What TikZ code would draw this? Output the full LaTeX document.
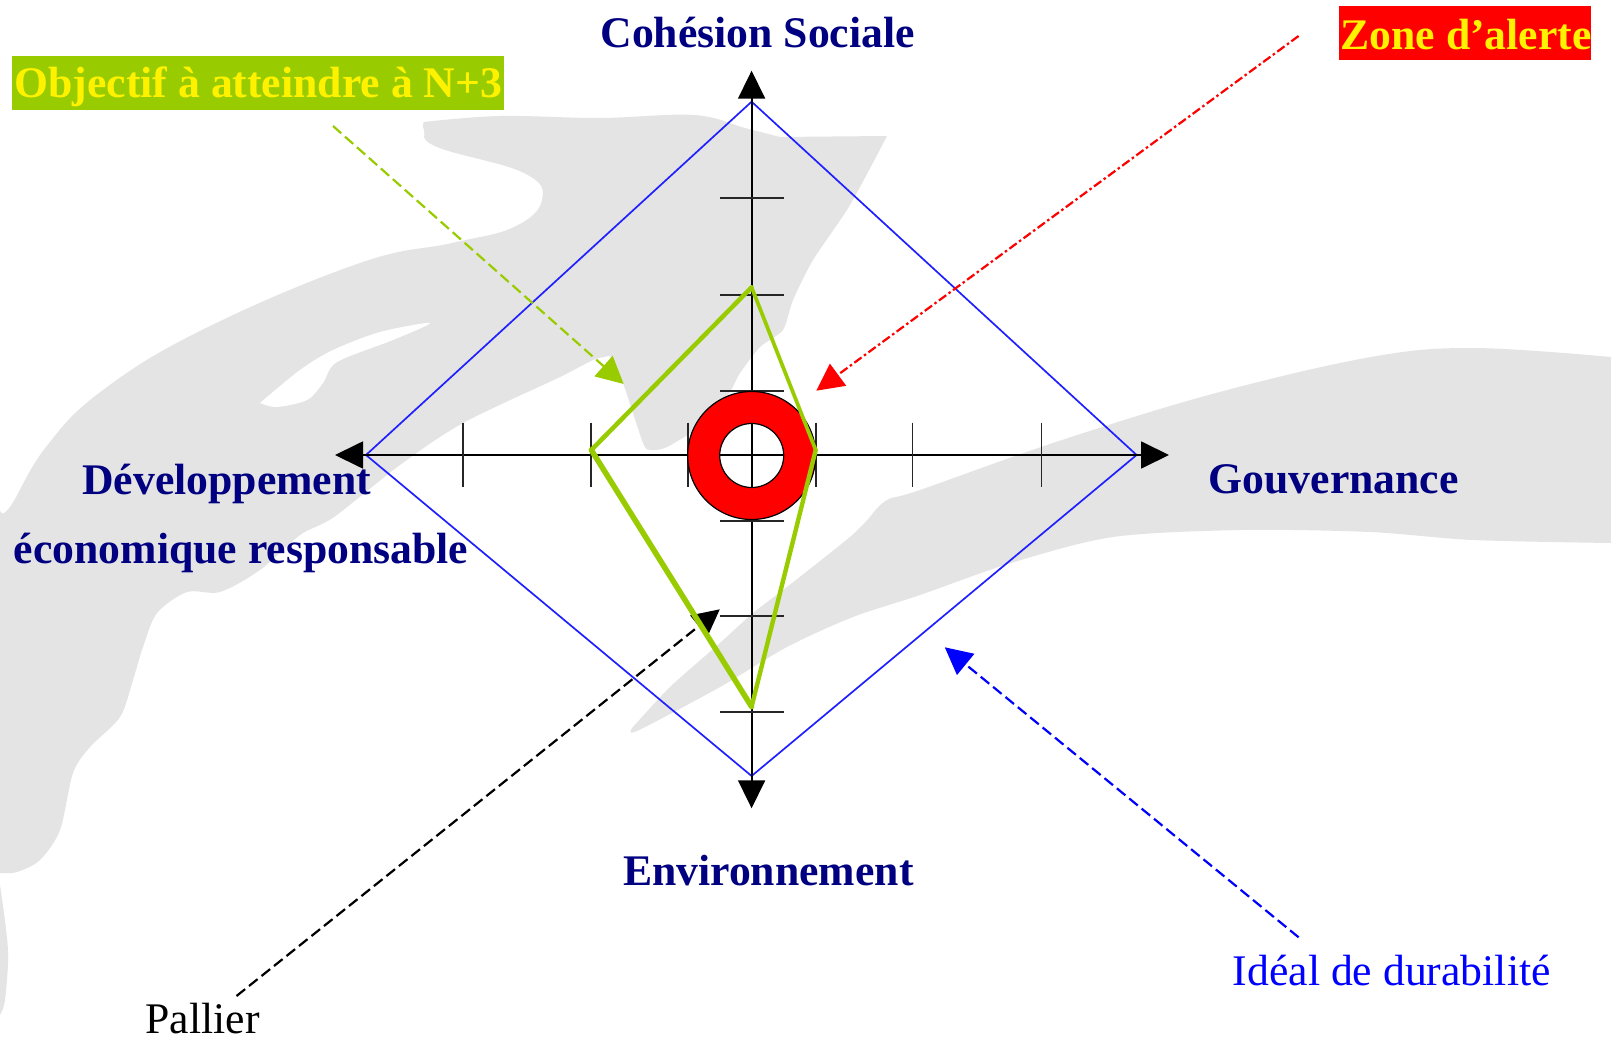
\documentclass[tikz,border=0pt]{standalone}
\usepackage{fontspec}
\setmainfont{Liberation Serif}
\usetikzlibrary{arrows.meta}
\definecolor{wmgray}{HTML}{E4E4E4}
\definecolor{navytxt}{HTML}{000080}
\definecolor{goal}{HTML}{99CC00}
\definecolor{dblue}{HTML}{2020FF}
\tikzset{
  x=1pt,y=-1pt,
  lab/.style={inner sep=0pt,outer sep=0pt,anchor=base west,font=\fontsize{43.7}{50}\selectfont},
  axislab/.style={lab,font=\fontsize{43.7}{50}\selectfont\bfseries,text=navytxt},
  taglab/.style={lab,font=\fontsize{43.7}{50}\selectfont\bfseries,text=yellow},
  tagbox/.style={inner sep=0pt,outer sep=0pt,anchor=north west},
  axisline/.style={black,line width=1.8pt,{Triangle[length=28pt,width=27pt]}-{Triangle[length=28pt,width=27pt]}},
  tickmark/.style={black!85,line width=1.7pt},
  callout/.style={line width=2.2pt,-{Triangle[length=27pt,width=27pt]}},
  greenedge/.style={goal,line cap=round,line join=round},
}
\begin{document}
\begin{tikzpicture}
\useasboundingbox (0,0) rectangle (1611,1040);
\clip (0,0) rectangle (1611,1040);
\fill[white] (0,0) rectangle (1611,1040);
% background watermark
\fill[wmgray] plot[smooth,tension=0.6] coordinates {(424,122) (500,116) (600,118) (694,115) (745,128) (780,137)} -- (887,136)
  -- plot[smooth,tension=0.4] coordinates {(887,136) (850,205) (813,260) (793,300) (783,330) (760,347) (740,373) (730,392) (710,420) (667,447) (650,450) (643,443) (623,383) (610,356)}
  -- plot[smooth,tension=0.5] coordinates {(610,356) (593,360) (560,377) (463,423) (400,465) (334,517) (300,535) (260,570) (220,592) (187,592) (157,613) (143,647) (133,680) (120,717) (90,747) (73,773) (60,830) (40,860) (17,872) (0,873)}
  -- (0,510)
  -- plot[smooth,tension=0.7] coordinates {(0,510) (10,507) (46,447) (103,390) (206,328) (360,263) (452,243) (514,227) (542,200) (524,173) (437,147) (424,130) (424,122)} -- cycle;
\fill[white] plot[smooth,tension=0.5] coordinates {(260,403) (300,370) (333,350) (380,332) (430,323) (393,340) (337,362) (323,383) (307,400) (277,407) (260,403)} -- cycle;
\fill[wmgray] plot[smooth,tension=0.6] coordinates {(1611,357) (1473,348) (1371,357) (1216,393) (1062,440) (920,490) (887,500) (870,517)}
  -- plot[smooth,tension=0.4] coordinates {(870,517) (850,537) (787,587) (753,613) (720,643) (670,687) (633,727)}
  -- plot[smooth,tension=0.5] coordinates {(633,727) (637,731) (720,687) (787,647) (853,617) (920,595) (1011,563) (1113,537) (1242,530) (1370,532) (1473,540) (1611,543)} -- cycle;
\fill[wmgray] plot[smooth] coordinates {(0,885) (8,950) (5,1000) (0,1015)} -- cycle;
% coordinates
\coordinate (dT) at (751.6,101.7);
\coordinate (dB) at (751.6,776);
\coordinate (dL) at (366,455);
\coordinate (dR) at (1136.6,455);
\coordinate (aT) at (751.6,70.7);
\coordinate (aB) at (751.6,808.3);
\coordinate (aL) at (335,455);
\coordinate (aR) at (1169,455);
\coordinate (ctr) at (751.7,455.5);
\coordinate (gT) at (751.6,287.3);
\coordinate (gL) at (591.3,450);
\coordinate (gB) at (751.6,706.7);
\coordinate (gR) at (815.7,450);
% diamond and axes
\draw[dblue,line width=1.7pt,line join=miter] (dT) -- (dR) -- (dB) -- (dL) -- cycle;
\draw[axisline] (aL) -- (aR);
\draw[axisline] (aT) -- (aB);
\foreach \tx in {462.7,591.3,688,816.3,912.5,1041.5}
  \draw[tickmark] (\tx,422.7) -- (\tx,487.3);
\foreach \ty in {198.3,294.7,391,520.7,616,712.3}
  \draw[tickmark] (719.8,\ty) -- (784,\ty);
% ring
\draw[black,line width=1.2pt,fill=red,even odd rule] (ctr) circle[radius=64] (ctr) circle[radius=32];
% labels boxes
\node[tagbox,fill=goal,minimum width=492pt,minimum height=54pt] (objbox) at (11.8,56) {};
\node[tagbox,fill=red,minimum width=252pt,minimum height=54.3pt] (zonebox) at (1338.7,5.7) {};
\node[taglab] (objtxt) at (14.4,97.7) {Objectif à atteindre à N+3};
\node[taglab] (zonetxt) at (1340.5,49.3) {Zone d’alerte};
\node[axislab] (coh) at (600.5,48) {Cohésion Sociale};
\node[axislab] (dev) at (82.3,494.5) {Développement};
\node[axislab] (eco) at (13.9,563) {économique responsable};
\node[axislab] (gou) at (1208.6,493) {Gouvernance};
\node[axislab] (env) at (623,885) {Environnement};
\node[lab,text=black] (pal) at (145.5,1033.5) {Pallier};
\node[lab,text=blue] (ideal) at (1232.8,985) {Idéal de durabilité};
% callouts
\coordinate (c1a) at (333,126);
\coordinate (c1b) at (623.7,384);
\coordinate (c2a) at (1298.6,36);
\coordinate (c2b) at (816.3,390.7);
\coordinate (c3a) at (1298.6,937.3);
\coordinate (c3b) at (944.8,647.3);
\coordinate (c4a) at (236.5,996);
\coordinate (c4b) at (719.8,609.3);
\draw[callout,goal,dash pattern=on 11pt off 5pt] (c1a) -- (c1b);
\draw[callout,red,dash pattern=on 9pt off 3pt on 2.5pt off 3pt] (c2a) -- (c2b);
\draw[callout,blue,dash pattern=on 11pt off 5pt] (c3a) -- (c3b);
\draw[callout,black,dash pattern=on 11pt off 5pt] (c4a) -- (c4b);
% green polygon
\draw[greenedge,line width=4.5pt] (gT) -- (gL);
\draw[greenedge,line width=5.5pt] (gL) -- (gB);
\draw[greenedge,line width=4.4pt] (gB) -- (gR);
\draw[greenedge,line width=3.7pt] (gR) -- (gT);
\end{tikzpicture}
\end{document}
